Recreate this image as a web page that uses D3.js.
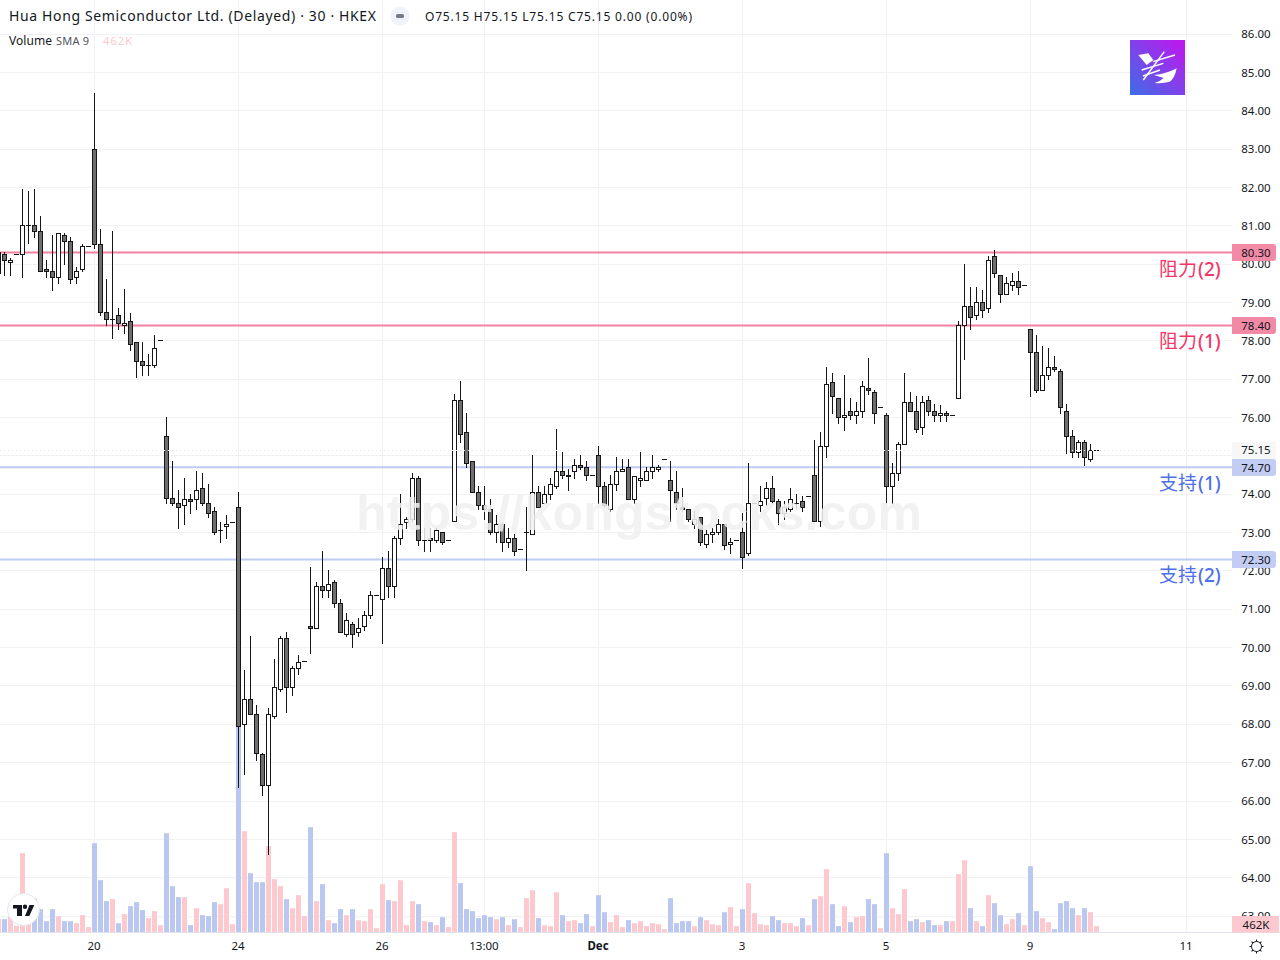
<!DOCTYPE html>
<html><head><meta charset="utf-8">
<style>html,body{margin:0;padding:0;background:#fff;overflow:hidden}svg{display:block}</style>
<script src="https://cdn.jsdelivr.net/npm/d3@7/dist/d3.min.js"></script></head><body>
<svg id="c" width="1280" height="960"></svg>
<script>
const opens=[79.75,80.25,80.05,80.25,80.25,81,81,80.85,79.85,79.8,
79.65,80.75,80.6,79.65,79.85,80.45,83,80.5,78.75,78.55,
78.65,78.4,78.5,77.95,77.45,77.35,77.35,78,75.5,73.9,
73.75,73.7,73.85,73.85,74.15,73.75,73.55,73.05,73.15,73.25,
73.65,68,68.65,68.25,67.2,66.4,68.2,68.9,70.25,68.95,
69.45,69.65,70.55,70.5,71.6,71.5,71.7,71.15,70.35,70.6,
70.4,70.55,70.85,71.35,71.25,72.05,71.6,72.85,73.25,73.35,
74.4,72.8,72.85,72.8,73,72.8,73.3,76.45,75.6,74.85,
74.05,73.7,73.6,73,73.2,72.75,72.85,72.55,73,72.95,
74.05,73.75,74,74.2,74.6,74.45,74.6,74.75,74.7,74.5,
75,74.2,73.6,74.25,74.6,74.7,73.85,74.35,74.35,74.6,
74.65,74.9,74.35,74.05,73.65,73.6,73.2,73.4,72.7,72.95,
73,73.2,72.7,72.8,73,72.45,73.75,73.7,73.9,74.15,
73.8,73.5,73.6,73.75,73.8,73.95,74.5,73.3,75.25,76.9,
76.5,76,76.15,76.05,76.15,76.75,76.65,76.25,76.05,74.2,
74.55,75.3,76.4,76.15,75.75,76.45,76.15,76.05,76.1,76.05,
76.5,78.4,78.9,78.65,79,78.85,80.2,79.7,79.2,79.45,
79.55,79.45,78.3,77.7,76.7,77.1,77.3,77.2,76.15,75.5,75.1,75.35,74.9,75.15];
const highs=[80.3,80.3,80.15,80.25,81.95,81.9,81.95,81.25,80.1,80.75,
80.8,80.8,80.7,79.9,80.5,80.45,84.45,80.9,79.6,80.85,
78.85,79.35,78.7,77.95,77.95,77.65,78.15,78,76,74.85,
74.1,74.4,74,74.6,74.55,74.25,73.65,73.25,73.45,73.25,
74.05,69.4,70.3,68.5,67.25,68.4,69.7,70.3,70.4,69.5,
69.8,69.65,72.1,71.7,72.5,72,71.75,71.25,70.9,70.65,
70.75,70.95,71.45,71.35,72.35,72.5,72.9,74,73.4,74.55,
74.45,73.1,73.1,73.1,73,72.8,76.6,76.95,76.1,74.85,
74.2,74.2,73.85,73.45,73.25,73.1,72.95,72.55,73.65,75,
74.2,74.2,74.4,75.7,75.1,74.65,74.9,75,74.85,74.5,
75.25,74.3,74.5,74.95,74.9,74.9,74.45,75.1,74.7,75,
74.75,74.9,74.85,74.6,74.15,73.6,73.55,73.4,73.05,73.1,
73.35,73.2,72.85,72.8,73.5,74.8,73.75,74.2,74.3,74.45,
73.85,73.8,74.15,74,73.95,73.95,75.4,75.6,77.3,77.15,
76.5,77.1,76.5,76.4,76.95,77.55,76.7,76.25,76.1,74.8,
75.35,77.15,76.65,76.55,76.55,76.55,76.35,76.3,76.15,76.05,
78.5,80,79.4,79.4,79.3,80.2,80.35,79.7,79.65,79.75,
79.8,79.45,78.3,78.15,77.85,77.8,77.6,77.25,76.35,75.65,75.4,75.4,75.3,75.15];
const lows=[79.75,79.7,79.7,80.25,79.65,80.55,80.7,79.8,79.65,79.3,
79.5,80,79.5,79.5,79.8,80.45,80.4,78.65,78.4,78.05,
78.3,78.2,77.75,77.05,77.1,77.1,77.3,78,73.75,73.7,
73.1,73.2,73.5,73.6,73.7,73.4,72.95,72.75,72.85,73.25,
66.35,66.7,68.25,67.05,66.15,64.6,68.15,68.85,68.3,68.75,
69.3,69.65,69.85,70.5,71.3,71.3,71.05,70.4,70.3,70,
70.3,70.45,70.75,71.35,70.1,71.3,71.3,72.7,73.1,73.3,
72.65,72.5,72.5,72.75,72.7,72.8,73.3,75.35,74.7,74.05,
73.6,73.35,72.95,72.75,72.5,72.6,72.4,72.55,72,72.95,
73.65,73.75,73.85,74.15,74.4,74.1,74.4,74.65,74.35,74.5,
73.75,73.65,73.55,74.1,74.6,73.85,73.75,74.2,74.35,74.4,
74.6,74.9,73.3,73.6,73.55,73.3,73.1,72.65,72.6,72.75,
72.95,72.55,72.45,72.8,72.05,72.4,73.75,73.55,73.7,73.75,
73.2,73.35,73.55,73.6,73.55,73.95,73.3,73.15,74.95,76.1,
75.85,75.65,75.95,75.85,76,76.6,75.85,76.25,73.75,73.75,
74.35,75.3,76.15,75.6,75.55,76.05,75.9,75.9,75.9,76.05,
76.5,77.5,78.3,78.55,78.6,78.75,79.65,79,79.2,79.3,
79.2,79.45,76.55,76.65,76.7,77,77.2,76.1,75.05,74.95,74.95,74.75,74.85,75.15];
const closes=[80.3,80.1,80.1,80.25,81,81,80.85,79.8,79.8,79.65,
80.8,80.6,79.6,79.8,80.45,80.45,80.5,78.75,78.55,78.55,
78.45,78.45,77.9,77.45,77.35,77.35,77.8,78,73.9,73.75,
73.65,73.85,73.8,74.1,73.75,73.5,73,73.05,73.2,73.25,
67.95,68.65,68.25,67.25,66.4,68.25,68.95,70.25,68.95,69.45,
69.6,69.65,70.5,71.6,71.5,71.65,71.15,70.4,70.7,70.35,
70.5,70.85,71.35,71.35,72.05,71.6,72.85,73.2,73.35,74.4,
72.8,72.8,72.8,73.05,72.75,72.8,76.45,75.55,74.8,74.05,
73.7,73.6,73,73.2,72.75,72.85,72.5,72.55,73,74.05,
73.65,74,74.25,74.6,74.5,74.5,74.75,74.7,74.5,74.5,
74.2,73.7,74.25,74.6,74.65,73.85,74.45,74.4,74.6,74.7,
74.7,74.9,74.1,73.75,73.6,73.35,73.35,72.75,72.95,73,
73.2,72.65,72.75,72.8,72.35,73.75,73.75,73.8,74.15,73.8,
73.5,73.65,73.85,73.75,73.65,73.95,73.3,75.25,76.85,76.55,
76,76.05,76.05,76.15,76.8,76.7,76.1,76.25,74.2,74.55,
75.3,76.4,76.15,75.7,76.4,76.15,76.05,76.1,76.05,76.05,
78.4,78.9,78.6,79,78.8,80.1,79.75,79.2,79.5,79.55,
79.4,79.45,77.7,76.7,77.1,77.3,77.25,76.25,75.5,75.1,75.35,74.95,75.15,75.15];
// thousands of shares
const volumes=[972,972,1142,486,5783,656,2479,1701,826,1701,
1191,826,826,680,1264,389,6512,3815,2284,2430,
680,1337,1920,2211,1628,1045,1555,535,7241,3378,
2576,2576,535,1774,1264,1191,2211,2066,3232,608,
15450,7387,4325,3669,3669,6294,3888,3378,2430,1774,
2722,1191,7679,2284,3524,899,680,1701,1264,1701,
899,826,1701,316,3524,2357,2284,3815,535,2284,
2066,826,753,535,1118,389,7314,3596,1701,1555,
1045,1264,1118,972,1118,535,972,389,2503,3086,
1045,535,462,2940,1264,826,899,680,1337,462,
2722,1482,753,1264,389,899,680,826,462,680,
608,243,2503,680,826,826,462,1118,899,608,
535,1482,1847,462,1701,3596,1409,608,535,1191,
899,680,680,462,1045,535,2430,2649,4617,2066,
462,1920,753,1118,1191,2430,2066,316,5783,1774,
1337,3159,826,972,753,899,535,535,826,826,
4253,5273,1774,826,462,2722,2138,1264,608,972,
1409,535,4836,1555,1045,753,243,2138,2284,1774,1264,1774,1482,462];
const priceTicks=d3.range(63,87);
const timeTicks=[16,40,64,81,100,124,148,172,198];
const timeLabels=["20","24","26","13:00","Dec","3","5","9","11"];
const levelValues=[80.30,78.40,74.70,72.30];
const levelNames=["阻力","阻力","支持","支持"];
const levelRanks=["(2)","(1)","(1)","(2)"];
const lastPrice=75.15;

const FONT="'Noto Sans',sans-serif", CJK="'Noto Sans CJK SC','Noto Sans',sans-serif";
const INK="#131722", GRID="#f1f1f3", PANE_R=1232, BASE=932.5, BORDER="#161616";
const svg=d3.select("#c");
const x=d3.scaleLinear().domain([0,1]).range([-1.5,4.5]);
const y=d3.scaleLinear().domain([86,64]).range([34,877.7]);
const v=d3.scaleLinear().domain([0,20000]).range([BASE,BASE-274.3]);
const snap=p=>Math.floor(p)+0.5;
const px=i=>Math.floor(x(i));
const data=opens.map((o,i)=>({i,o,h:highs[i],l:lows[i],c:closes[i],vol:volumes[i]}));
const isUp=d=>d.c>=d.o;

// grid
const grid=svg.append("g").attr("stroke",GRID).attr("stroke-width",1).attr("shape-rendering","crispEdges");
grid.selectAll(".h").data(priceTicks).join("line").attr("x1",0).attr("x2",PANE_R).attr("y1",d=>snap(y(d))).attr("y2",d=>snap(y(d)));
grid.selectAll(".v").data(timeTicks).join("line").attr("x1",d=>px(d)+.5).attr("x2",d=>px(d)+.5).attr("y1",0).attr("y2",BASE);

// volume
svg.append("g").selectAll("rect").data(data).join("rect")
 .attr("x",d=>px(d.i)-2).attr("width",5)
 .attr("y",d=>v(d.vol)).attr("height",d=>BASE-v(d.vol))
 .attr("fill",d=>isUp(d)?"#fdc9ce":"#b9c7f1");

// level lines
const lvlCol=["#f2829f","#f2829f","#c0cbf2","#c0cbf2"];
svg.append("g").selectAll("line").data(levelValues).join("line")
 .attr("x1",0).attr("x2",PANE_R).attr("y1",d=>y(d)).attr("y2",d=>y(d))
 .attr("stroke",(d,i)=>lvlCol[i]).attr("stroke-width",2);

// candles: wick, outline block, inner fill
const cg=svg.append("g").attr("shape-rendering","crispEdges");
const bodyTop=d=>Math.floor(y(Math.max(d.o,d.c)));
const bodyBot=d=>Math.floor(y(Math.min(d.o,d.c)));
cg.append("g").selectAll("line").data(data).join("line")
 .attr("x1",d=>px(d.i)+.5).attr("x2",d=>px(d.i)+.5)
 .attr("y1",d=>Math.floor(y(d.h))).attr("y2",d=>Math.floor(y(d.l))+1)
 .attr("stroke",BORDER);
cg.append("g").selectAll("rect").data(data).join("rect")
 .attr("x",d=>px(d.i)-2).attr("width",5)
 .attr("y",bodyTop).attr("height",d=>bodyBot(d)-bodyTop(d)+1)
 .attr("fill",BORDER);
cg.append("g").selectAll("rect").data(data.filter(d=>bodyBot(d)-bodyTop(d)>1)).join("rect")
 .attr("x",d=>px(d.i)-1).attr("width",3)
 .attr("y",d=>bodyTop(d)+1).attr("height",d=>bodyBot(d)-bodyTop(d)-1)
 .attr("fill",d=>d.c>d.o?"#fff":"#6e6e6e");

// last price dotted line
svg.append("line").attr("x1",0).attr("x2",PANE_R).attr("y1",snap(y(lastPrice))).attr("y2",snap(y(lastPrice)))
 .attr("stroke","#e6e6e6").attr("stroke-dasharray","1 3");

// watermark
svg.append("text").attr("x",356).attr("y",530).attr("textLength",566).attr("lengthAdjust","spacing")
 .attr("font-family","'Liberation Sans',sans-serif").attr("font-weight",700).attr("font-size",50)
 .attr("fill","#f0f0f0").attr("fill-opacity",.88).text("https://kongstocks.com");

// price axis
const yAxis=svg.append("g").attr("transform",`translate(${PANE_R},0)`)
 .call(d3.axisRight(y).tickValues(priceTicks).tickFormat(d3.format(".2f")).tickSize(0));
yAxis.select(".domain").remove();
yAxis.selectAll("text").attr("x",24).attr("text-anchor","middle").attr("font-family",FONT).attr("font-size",11.5).attr("fill",INK);

// time axis
svg.append("line").attr("x1",0).attr("x2",1280).attr("y1",BASE).attr("y2",BASE).attr("stroke","#e0e3eb").attr("shape-rendering","crispEdges");
const xAxis=svg.append("g").attr("transform",`translate(-1,${BASE})`)
 .call(d3.axisBottom(x).tickValues(timeTicks).tickFormat((d,i)=>timeLabels[i]).tickSize(0));
xAxis.select(".domain").remove();
xAxis.selectAll("text").attr("y",9).attr("font-family",FONT).attr("font-size",11.5).attr("fill",INK)
 .attr("font-weight",(d,i)=>timeLabels[i]==="Dec"?700:400);

// level tags and names
const tagCol=["#f28aa6","#f28aa6","#c3cdf4","#c3cdf4"], nameCol=["#f23668","#f23668","#4d6fe8","#4d6fe8"];
const tags=svg.append("g").selectAll("g").data(levelValues).join("g");
tags.append("path").attr("d",d=>{const t=Math.floor(y(d))-8;return `M1232 ${t}h41q3 0 3 3v11q0 3-3 3h-41z`;}).attr("fill",(d,i)=>tagCol[i]);
tags.append("text").attr("x",1256).attr("y",d=>y(d)+.5).attr("dy","0.35em").attr("text-anchor","middle")
 .attr("font-family",FONT).attr("font-size",11.5).attr("fill",INK).text(d=>d.toFixed(2));
const names=svg.append("g").selectAll("text").data(levelNames).join("text")
 .attr("x",1159).attr("y",(d,i)=>y(levelValues[i])+23).attr("font-family",CJK).attr("font-size",19)
 .attr("fill",(d,i)=>nameCol[i]);
names.append("tspan").text(d=>d);
names.append("tspan").attr("dx",1).attr("font-family",FONT).attr("font-weight",500).text((d,i)=>levelRanks[i]);

// last price tag
svg.append("rect").attr("x",1232).attr("y",Math.floor(y(lastPrice))-8).attr("width",44).attr("height",17).attr("fill","#f7f7f7");
svg.append("text").attr("x",1256).attr("y",y(lastPrice)).attr("dy","0.35em").attr("text-anchor","middle")
 .attr("font-family",FONT).attr("font-size",11.5).attr("fill",INK).text(lastPrice.toFixed(2));

// volume tag
svg.append("rect").attr("x",1232).attr("y",916).attr("width",47).attr("height",16.5).attr("fill","#fdc9ce");
svg.append("text").attr("x",1256).attr("y",925).attr("dy","0.35em").attr("text-anchor","middle")
 .attr("font-family",FONT).attr("font-size",11.5).attr("fill",INK).text("462K");

// legend
const lt=(t,xx,yy,fs,col,len)=>{const e=svg.append("text").attr("x",xx).attr("y",yy).attr("font-family",FONT).attr("font-size",fs).attr("fill",col).text(t);if(len)e.attr("textLength",len);return e;};
lt("Hua Hong Semiconductor Ltd. (Delayed) · 30 · HKEX",9,21,14,INK,367);
svg.append("circle").attr("cx",400).attr("cy",16).attr("r",9.5).attr("fill","#f0f3fa");
svg.append("rect").attr("x",396).attr("y",14).attr("width",8).attr("height",4).attr("rx",1.5).attr("fill","#787b86");
lt("O75.15 H75.15 L75.15 C75.15 0.00 (0.00%)",425,21,12,INK,267);
lt("Volume",9,45,12,INK,43);
lt("SMA 9",56,45,11,"#50535e",33);
lt("462K",103,45,11,"#fdc9ce",29);

// brand logo
const defs=svg.append("defs");
const lg=defs.append("linearGradient").attr("id","lg").attr("x1","0").attr("y1","1").attr("x2","1").attr("y2","0");
lg.append("stop").attr("offset",0).attr("stop-color","#3d6ee6");
lg.append("stop").attr("offset",1).attr("stop-color","#c414ee");
svg.append("rect").attr("x",1130).attr("y",40).attr("width",55).attr("height",55).attr("fill","url(#lg)");
const lo=svg.append("g").attr("fill","#fff").attr("stroke","none");
lo.append("path").attr("d","M1138.300 55l10-1.700 5 6.700-6.600 5z");
lo.append("path").attr("d","M1154 75q12-1 22.700-6.700-2 10-7 13.400-7 2-15 1.300 6-2 9-5z");
lo.append("g").attr("stroke","#fff").attr("stroke-width",1.4).selectAll("line")
 .data([[1164.300,51.700,1143.300,80],[1153,61.700,1175,55],[1141.700,70,1163.300,63.300],[1143,76,1160,70]]).join("line")
 .attr("x1",d=>d[0]).attr("y1",d=>d[1]).attr("x2",d=>d[2]).attr("y2",d=>d[3]);

// TV badge
svg.append("circle").attr("cx",23.5).attr("cy",909.5).attr("r",16).attr("fill","#fff").attr("stroke","#e6e6e8");
svg.append("path").attr("fill","#131722").attr("d","M13 905h9v11h-5v-7.500h-4zM29.500 905h4.800l-5 11h-4.300zM27.200 906.800a2.200 2.200 0 1 1-4.400 0 2.200 2.200 0 1 1 4.400 0z");

// settings sun
const sun=svg.append("g").attr("transform","translate(1256.5,946.5)").attr("stroke","#131722").attr("fill","none");
sun.append("circle").attr("r",5);
sun.selectAll("line").data(d3.range(8)).join("line").attr("x1",0).attr("x2",0).attr("y1",-5).attr("y2",-7)
 .attr("transform",d=>`rotate(${d*45})`);
</script></body></html>
